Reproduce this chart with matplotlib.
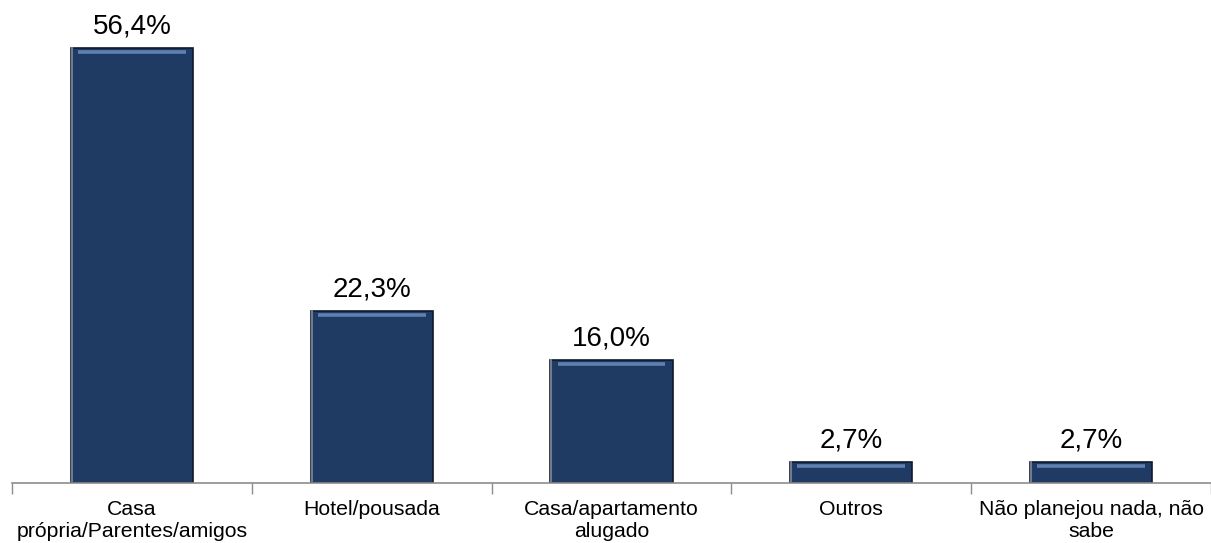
import matplotlib.pyplot as plt
import matplotlib.transforms as mtransforms
import numpy as np

plt.rcParams['font.family'] = ['Liberation Sans', 'DejaVu Sans']

categorias = ["Casa\nprópria/Parentes/amigos", "Hotel/pousada",
              "Casa/apartamento\nalugado", "Outros", "Não planejou nada, não\nsabe"]
valores = [56.4, 22.3, 16.0, 2.7, 2.7]
rotulos = ["56,4%", "22,3%", "16,0%", "2,7%", "2,7%"]

fig = plt.figure(figsize=(12.11, 5.43), dpi=100)
ax = fig.add_axes([12 / 1211, 60 / 543, 1 - 12 / 1211, 483 / 543])

x = np.arange(len(valores))
largura = 0.51
barras = ax.bar(x, valores, width=largura, color="#1F3B64",
                edgecolor="#0E1A2C", linewidth=1.2, zorder=2)

# brilho no topo e borda clara à esquerda de cada barra
off = mtransforms.offset_copy(ax.transData, fig=fig, x=0, y=-3, units="points")
for xi, v in zip(x, valores):
    ax.plot([xi - largura / 2 + 0.03, xi + largura / 2 - 0.03], [v, v],
            color="#5F81B0", lw=2.6, transform=off, zorder=3, solid_capstyle="butt")
    ax.plot([xi - largura / 2 + 0.004, xi - largura / 2 + 0.004], [0, v],
            color="#6E7C8E", lw=1.5, zorder=3)

for xi, v, r in zip(x, valores, rotulos):
    ax.annotate(r, (xi, v), xytext=(0, 6), textcoords="offset points",
                ha="center", va="bottom", fontsize=20)

ax.set_xlim(-0.5, len(valores) - 0.5)
ax.set_ylim(0, 62.6)
ax.set_xticks(x)
ax.set_xticklabels(categorias, fontsize=15.3, linespacing=1.2)
ax.tick_params(axis="x", which="major", length=0, pad=12)
ax.set_xticks(np.arange(-0.5, len(valores)), minor=True)
ax.tick_params(axis="x", which="minor", length=8, color="#8C8C8C", width=1)
ax.set_yticks([])
for lado in ["top", "right", "left"]:
    ax.spines[lado].set_visible(False)
ax.spines["bottom"].set_color("#8C8C8C")
ax.spines["bottom"].set_linewidth(1.2)

fig.savefig("out.png", dpi=100)
